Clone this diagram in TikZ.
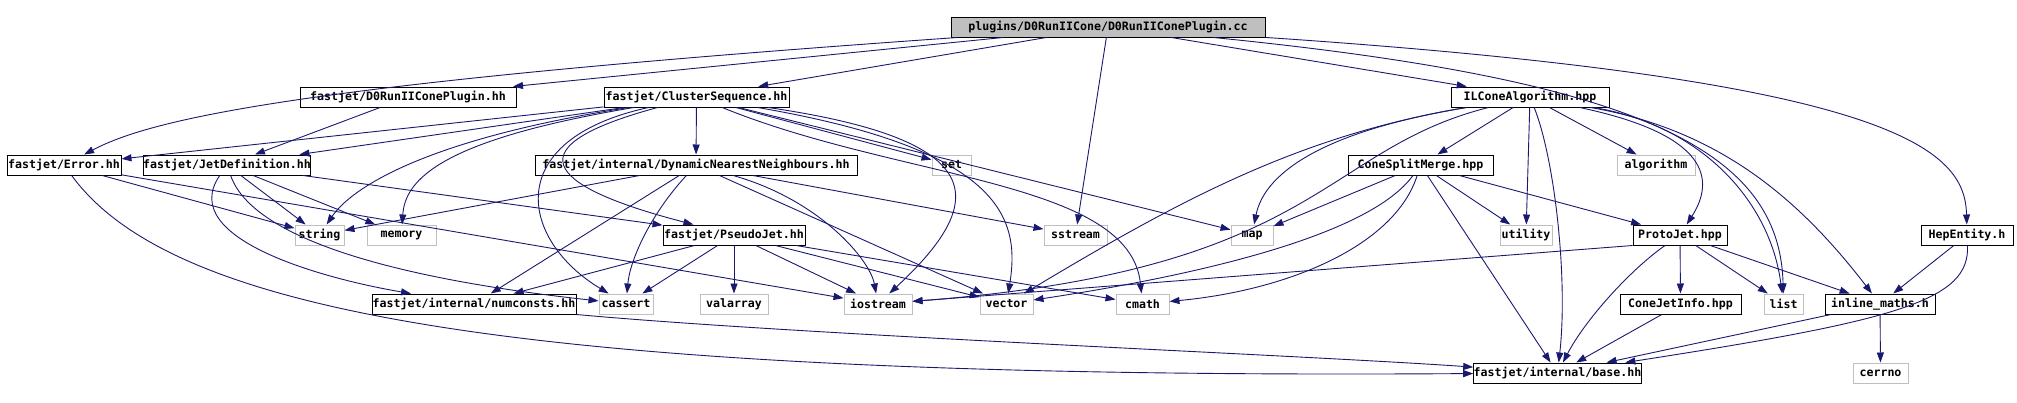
\documentclass[tikz,border=0pt]{standalone}
\usepackage{fontspec}
\newfontfamily\graphfont{DejaVu Sans Mono Bold}
\usepackage{tikz}
\usetikzlibrary{arrows.meta}
\definecolor{edgeblue}{HTML}{191970}
\definecolor{sysgray}{HTML}{BFBFBF}

\begin{document}
\begin{tikzpicture}[
  x=1pt, y=-1pt,
  box/.style={rectangle, draw=black, line width=1pt, inner sep=0pt,
              minimum height=20pt, font=\graphfont\fontsize{11.6}{12}\selectfont},
  sysbox/.style={box, draw=sysgray},
  rootbox/.style={box, fill=sysgray},
  arr/.style={-{Triangle[length=10pt,width=7pt]}, draw=edgeblue,
              line width=0.9pt}
]
  \useasboundingbox (0,0) rectangle (2017,402);

  % first rows
  \node[rootbox, minimum width=314pt] (top) at (1108,27)
    {plugins/D0RunIICone/D0RunIIConePlugin.cc};
  \node[box, minimum width=216pt] (d0hh) at (408,97) {fastjet/D0RunIIConePlugin.hh};
  \node[box, minimum width=185pt] (cs) at (696.5,97) {fastjet/ClusterSequence.hh};
  \node[box, minimum width=158pt] (ilcone) at (1530,97) {ILConeAlgorithm.hpp};

  \node[box, minimum width=114pt] (err) at (64,165) {fastjet/Error.hh};
  \node[box, minimum width=164pt] (jetdef) at (227,165) {fastjet/JetDefinition.hh};
  \node[box, minimum width=322pt] (dnn) at (696,165)
    {fastjet/internal/DynamicNearestNeighbours.hh};
  \node[sysbox, minimum width=39pt] (set) at (951.5,165) {set};
  \node[box, minimum width=145pt] (csm) at (1420.5,165) {ConeSplitMerge.hpp};
  \node[sysbox, minimum width=78pt] (algorithm) at (1656,165) {algorithm};

  \node[sysbox, minimum width=49pt] (string) at (319.5,235) {string};
  \node[sysbox, minimum width=69pt] (memory) at (401.5,235) {memory};
  \node[box, minimum width=142pt] (pseudojet) at (734,235) {fastjet/PseudoJet.hh};
  \node[sysbox, minimum width=63pt] (sstream) at (1075.5,235) {sstream};
  \node[sysbox, minimum width=42pt] (map) at (1252,235) {map};
  \node[sysbox, minimum width=52pt] (utility) at (1526,235) {utility};
  \node[box, minimum width=94pt] (protojet) at (1680,235) {ProtoJet.hpp};
  \node[box, minimum width=92pt] (hepentity) at (1967,235) {HepEntity.h};

  % lower rows
  \node[box, minimum width=204pt] (numconsts) at (474,304) {fastjet/internal/numconsts.hh};
  \node[sysbox, minimum width=54pt] (cassert) at (626,304) {cassert};
  \node[sysbox, minimum width=68pt] (valarray) at (734,304) {valarray};
  \node[sysbox, minimum width=68pt] (iostream) at (878,304) {iostream};
  \node[sysbox, minimum width=53pt] (vector) at (1006.5,304) {vector};
  \node[sysbox, minimum width=53pt] (cmath) at (1142.5,304) {cmath};
  \node[box, minimum width=121pt] (conejetinfo) at (1680.5,304) {ConeJetInfo.hpp};
  \node[sysbox, minimum width=39pt] (list) at (1783.5,304) {list};
  \node[box, minimum width=110pt] (inlinemaths) at (1880,304) {inline\_maths.h};

  \node[box, minimum width=163pt] (base) at (1557.5,373) {fastjet/internal/base.hh};
  \node[sysbox, minimum width=55pt] (cerrno) at (1880.5,373) {cerrno};

  % includes of the plugin source
  \draw[arr] (top) .. controls (290,84) and (150,120) .. (err);
  \draw[arr] (top) -- (d0hh);
  \draw[arr] (top) -- (cs);
  \draw[arr] (top) -- (sstream);
  \draw[arr] (top) -- (ilcone);
  \draw[arr] (top) .. controls (1640,80) and (1780,150) .. (list);
  \draw[arr] (top) .. controls (1900,80) and (1965,150) .. (hepentity);

  \draw[arr] (d0hh) -- (jetdef);

  % ClusterSequence.hh
  \draw[arr] (cs) -- (err);
  \draw[arr] (cs) -- (jetdef);
  \draw[arr] (cs) .. controls (420,140) and (350,190) .. (string);
  \draw[arr] (cs) .. controls (440,140) and (405,180) .. (memory);
  \draw[arr] (cs) .. controls (500,140) and (520,240) .. (cassert);
  \draw[arr] (cs) .. controls (500,150) and (560,190) .. (pseudojet);
  \draw[arr] (cs) -- (dnn);
  \draw[arr] (cs) -- (set);
  \draw[arr] (cs) .. controls (990,140) and (990,200) .. (iostream);
  \draw[arr] (cs) .. controls (1005,150) and (1020,220) .. (vector);
  \draw[arr] (cs) -- (map);
  \draw[arr] (cs) .. controls (900,180) and (1130,180) .. (cmath);

  % Error.hh and JetDefinition.hh
  \draw[arr] (err) -- (string);
  \draw[arr] (err) -- (iostream);
  \draw[arr] (err) .. controls (170,310) and (500,380) .. (base);
  \draw[arr] (jetdef) .. controls (175,240) and (330,280) .. (numconsts);
  \draw[arr] (jetdef) .. controls (260,260) and (500,290) .. (cassert);
  \draw[arr] (jetdef) -- (string);
  \draw[arr] (jetdef) -- (memory);
  \draw[arr] (jetdef) -- (pseudojet);

  % DynamicNearestNeighbours.hh
  \draw[arr] (dnn) -- (string);
  \draw[arr] (dnn) -- (numconsts);
  \draw[arr] (dnn) .. controls (650,215) and (630,260) .. (cassert);
  \draw[arr] (dnn) .. controls (820,200) and (870,260) .. (iostream);
  \draw[arr] (dnn) -- (vector);
  \draw[arr] (dnn) -- (sstream);

  % PseudoJet.hh
  \foreach \dst in {numconsts,cassert,valarray,iostream,vector,cmath}
    \draw[arr] (pseudojet) -- (\dst);
  \draw[arr] (numconsts.south east) .. controls (800,335) and (1300,355) .. (base);

  % ILConeAlgorithm.hpp
  \draw[arr] (ilcone) .. controls (1330,130) and (1265,170) .. (map);
  \draw[arr] (ilcone) .. controls (1300,135) and (1180,200) .. (vector);
  \draw[arr] (ilcone) .. controls (1320,150) and (1320,270) .. (iostream);
  \draw[arr] (ilcone) -- (csm);
  \draw[arr] (ilcone) -- (utility);
  \draw[arr] (ilcone) .. controls (1555,160) and (1568,280) .. (base);
  \draw[arr] (ilcone) -- (algorithm);
  \draw[arr] (ilcone) .. controls (1700,125) and (1770,200) .. (list);
  \draw[arr] (ilcone) .. controls (1710,135) and (1715,180) .. (protojet);
  \draw[arr] (ilcone) .. controls (1720,130) and (1800,200) .. (inlinemaths);

  % ConeSplitMerge.hpp
  \draw[arr] (csm) -- (map);
  \draw[arr] (csm) .. controls (1370,235) and (1200,275) .. (vector);
  \draw[arr] (csm) .. controls (1395,245) and (1290,290) .. (cmath);
  \draw[arr] (csm) -- (base);
  \draw[arr] (csm) -- (utility);
  \draw[arr] (csm) -- (protojet);

  % ProtoJet.hpp and the rest
  \draw[arr] (protojet.south west) -- (iostream);
  \draw[arr] (protojet) .. controls (1630,270) and (1585,320) .. (base);
  \draw[arr] (protojet) -- (conejetinfo);
  \draw[arr] (protojet) -- (list);
  \draw[arr] (protojet) -- (inlinemaths);
  \draw[arr] (conejetinfo) -- (base);
  \draw[arr] (inlinemaths) -- (base);
  \draw[arr] (inlinemaths) -- (cerrno);
  \draw[arr] (hepentity) -- (inlinemaths);
  \draw[arr] (hepentity) .. controls (1970,300) and (1900,320) .. (base);
\end{tikzpicture}
\end{document}
